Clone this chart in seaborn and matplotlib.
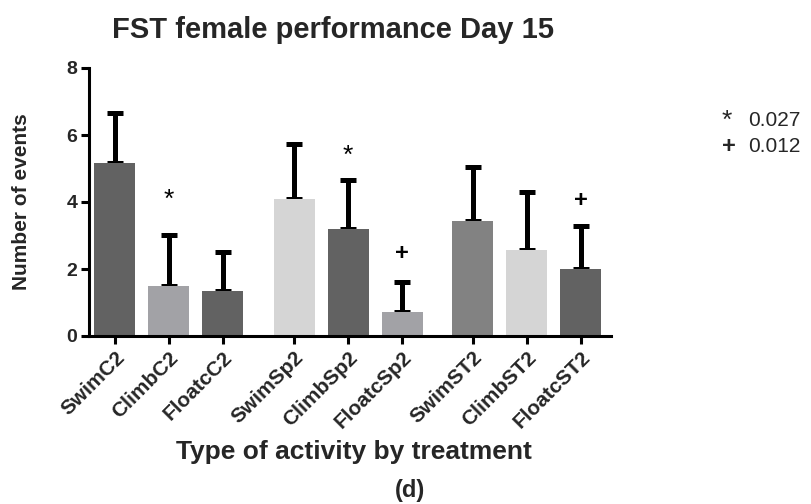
import matplotlib
matplotlib.use("Agg")
import matplotlib.pyplot as plt
import seaborn as sns
import numpy as np
import pandas as pd

# ---- data ----
categories = ["SwimC2", "ClimbC2", "FloatcC2", "SwimSp2", "ClimbSp2", "FloatcSp2",
              "SwimST2", "ClimbST2", "FloatcST2"]
means = [5.16, 1.49, 1.34, 4.09, 3.19, 0.72, 3.43, 2.57, 2.00]
sds = [1.50, 1.52, 1.17, 1.64, 1.47, 0.89, 1.61, 1.73, 1.28]
positions = [0, 1, 2, 3.32, 4.32, 5.32, 6.63, 7.63, 8.63]
bar_colors = ["#626262", "#a2a2a6", "#626262", "#d5d5d5", "#626262", "#a2a2a6",
              "#828282", "#d5d5d5", "#626262"]
sig_marks = ["", "*", "", "", "*", "+", "", "", "+"]
sig_heights = [0, 4.05, 0, 0, 5.37, 2.46, 0, 0, 4.04]
legend_lines = [("*", "0.027"), ("+", "0.012")]

df = pd.DataFrame({"pos": positions, "cat": categories, "mean": means})

sns.set_theme(style="white")
plt.rcParams["font.family"] = ["Liberation Sans", "DejaVu Sans"]

fig = plt.figure(figsize=(8.12, 5.04), dpi=100)
ax = fig.add_axes([89 / 812, (504 - 336) / 504, 522 / 812, 268 / 504])

sns.barplot(data=df, x="pos", y="mean", hue="cat", palette=bar_colors,
            native_scale=True, width=0.76, legend=False, ax=ax,
            errorbar=None, saturation=1, linewidth=0)

ax.errorbar(positions, means, yerr=[np.zeros(len(sds)), sds], fmt="none",
            ecolor="black", elinewidth=3.6, capsize=5.8, capthick=3.6, zorder=1)
for p in ax.patches:
    p.set_zorder(2)

for x, m, h in zip(positions, sig_marks, sig_heights):
    if m == "*":
        ax.text(x, h, m, ha="center", va="center", fontsize=19, color="black")
    elif m == "+":
        ax.text(x, h, m, ha="center", va="center", fontsize=17, color="black",
                fontweight="bold")

ax.set_xlim(-0.48, 9.19)
ax.set_ylim(0, 8)
ax.set_yticks([0, 2, 4, 6, 8])
ax.set_xticks(positions)
ax.set_xticklabels(categories, rotation=45, ha="right", rotation_mode="anchor",
                   fontsize=15, fontweight="bold")
for lab in ax.get_yticklabels():
    lab.set_fontsize(14)
    lab.set_fontweight("bold")

for side in ["top", "right"]:
    ax.spines[side].set_visible(False)
for side in ["left", "bottom"]:
    ax.spines[side].set_linewidth(2.2)
    ax.spines[side].set_color("black")
ax.tick_params(axis="both", direction="out", length=5.5, width=2.2, color="black",
               bottom=True, left=True, pad=3)

ax.set_xlabel("")
ax.set_ylabel("Number of events", fontsize=15, fontweight="bold")
ax.yaxis.set_label_coords(-0.112, 0.5)

fig.text(333 / 812, 1 - 30 / 504, "FST female performance Day 15", ha="center",
         va="center", fontsize=21, fontweight="bold")
fig.text(354 / 812, 1 - 452 / 504, "Type of activity by treatment", ha="center",
         va="center", fontsize=19, fontweight="bold")
fig.text(410 / 812, 1 - 490 / 504, "(d)", ha="center", va="center",
         fontsize=17, fontweight="bold")

for i, (sym, val) in enumerate(legend_lines):
    yy = 1 - (121 + 25 * i) / 504
    if sym == "*":
        fig.text(722 / 812, yy, sym, ha="left", va="center", fontsize=19)
    else:
        fig.text(722 / 812, yy, sym, ha="left", va="center", fontsize=17,
                 fontweight="bold")
    fig.text(748 / 812, yy, val, ha="left", va="center", fontsize=15)

fig.savefig("out.png", dpi=100)
